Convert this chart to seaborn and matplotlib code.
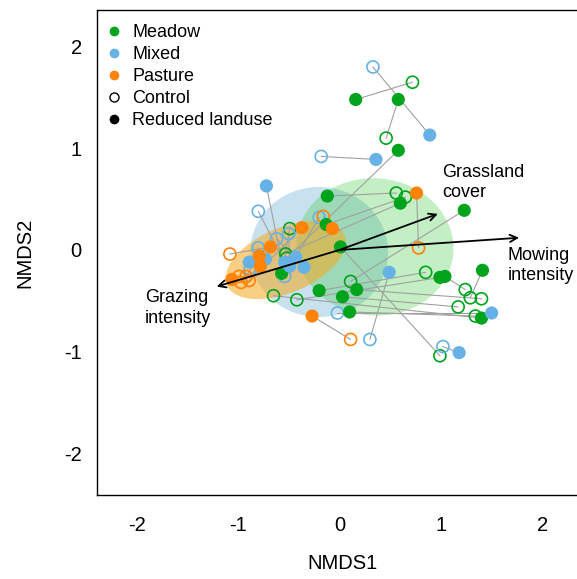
import matplotlib
matplotlib.use("Agg")
import matplotlib.pyplot as plt
import seaborn as sns
import pandas as pd
from matplotlib.patches import Ellipse
from matplotlib.lines import Line2D

# ---- data: one entry per site pair (control vs reduced land use) ----
landuse = (["Meadow"] * 17) + (["Mixed"] * 12) + (["Pasture"] * 8)
ctrl_x = [0.72, 0.46, 0.56, 0.65, -0.53, -0.52, -0.42, 0.11, 0.85, 1.24, 1.29, 1.17, 1.34, 0.99, 1.40, -0.49, -0.65,
          0.33, -0.18, -0.02, 0.30, 1.02, -0.54, -0.80, -0.20, -0.50, -0.62, -0.80, -0.88,
          0.78, 0.11, -0.16, -1.08, -0.99, -0.92, -0.97, -0.89]
ctrl_y = [1.65, 1.10, 0.56, 0.52, -0.04, -0.08, -0.49, -0.31, -0.22, -0.39, -0.47, -0.56, -0.65, -1.04, -0.48, 0.21, -0.45,
          1.80, 0.92, -0.62, -0.88, -0.95, -0.26, 0.38, 0.32, 0.16, 0.11, 0.02, -0.19,
          0.02, -0.88, 0.33, -0.04, -0.26, -0.26, -0.32, -0.30]
red_x = [0.16, 0.58, -0.12, -0.13, 0.60, 0.58, 0.99, 1.23, -0.20, 1.04, 1.41, 0.03, 0.10, 0.01, 0.17, -0.57, 1.40,
         0.89, 0.36, 1.50, 0.49, 1.18, -0.72, -0.54, -0.43, -0.49, -0.35, -0.73, -0.89,
         0.76, -0.27, -0.07, -0.68, -1.06, -0.79, -0.78, -0.37]
red_y = [1.48, 1.48, 0.53, 0.25, 0.46, 0.98, -0.27, 0.39, -0.40, -0.26, -0.20, -0.46, -0.61, 0.03, -0.39, -0.23, -0.67,
         1.13, 0.89, -0.62, -0.22, -1.01, 0.63, -0.12, -0.07, -0.16, -0.17, -0.09, -0.12,
         0.56, -0.65, 0.21, 0.03, -0.29, -0.06, -0.16, 0.22]

# ellipses per land use: centre x, centre y, width, height, angle
ell_names = ["Mixed", "Meadow", "Pasture"]
ell_cx = [-0.20, 0.35, -0.53]
ell_cy = [-0.02, 0.03, -0.10]
ell_w = [1.36, 1.55, 1.26]
ell_h = [1.28, 1.35, 0.64]
ell_angle = [0, -5, 23]

# environmental vectors
vec_names = ["Grassland\ncover", "Mowing\nintensity", "Grazing\nintensity"]
vec_x = [0.97, 1.77, -1.21]
vec_y = [0.355, 0.12, -0.36]

colors = {"Meadow": "#00A41C", "Mixed": "#66B2E6", "Pasture": "#FF8209"}
ell_colors = {"Meadow": ("#3CC83C", 0.30), "Mixed": ("#7AB8D8", 0.42), "Pasture": ("#F5A81E", 0.55)}

df_c = pd.DataFrame({"x": ctrl_x, "y": ctrl_y, "landuse": landuse})
df_r = pd.DataFrame({"x": red_x, "y": red_y, "landuse": landuse})

sns.set_style("white")
plt.rcParams["font.family"] = ["Liberation Sans", "DejaVu Sans"]
plt.rcParams["text.color"] = "black"
plt.rcParams["axes.labelcolor"] = "black"
plt.rcParams["xtick.color"] = "black"
plt.rcParams["ytick.color"] = "black"

fig = plt.figure(figsize=(5.77, 5.79), dpi=100)
ax = fig.add_axes([97 / 577, 0.1451, 491 / 577, 0.8376])

# ellipses
for n, cx, cy, w, h, a in zip(ell_names, ell_cx, ell_cy, ell_w, ell_h, ell_angle):
    c, al = ell_colors[n]
    ax.add_patch(Ellipse((cx, cy), w, h, angle=a, facecolor=c, alpha=al, edgecolor="none", zorder=1))

# connecting lines
for x0, y0, x1, y1 in zip(ctrl_x, ctrl_y, red_x, red_y):
    ax.plot([x0, x1], [y0, y1], color="#a0a0a0", lw=0.8, zorder=2)

# reduced (filled)
sns.scatterplot(data=df_r, x="x", y="y", hue="landuse", palette=colors, s=90,
                linewidth=0, ax=ax, legend=False, zorder=4)
# control (open)
for lu in ["Meadow", "Mixed", "Pasture"]:
    sub = df_c[df_c.landuse == lu]
    sns.scatterplot(data=sub, x="x", y="y", color=colors[lu], s=75, linewidth=1.2,
                    ax=ax, legend=False, zorder=3)
    coll = ax.collections[-1]
    coll.set_facecolor("none")
    coll.set_edgecolor(colors[lu])

# vectors
for name, vx, vy in zip(vec_names, vec_x, vec_y):
    ax.annotate("", xy=(vx, vy), xytext=(0, 0),
                arrowprops=dict(arrowstyle="->", lw=1.3, color="black", mutation_scale=13,
                                shrinkA=0, shrinkB=0), zorder=5)
ax.text(1.01, 0.66, vec_names[0], ha="left", va="center", fontsize=13, linespacing=1.25)
ax.text(1.66, -0.15, vec_names[1], ha="left", va="center", fontsize=13, linespacing=1.25)
ax.text(-1.92, -0.57, vec_names[2], ha="left", va="center", fontsize=13, linespacing=1.25)

ax.set_xlim(-2.39, 2.45)
ax.set_ylim(-2.41, 2.36)
ax.set_xticks([-2, -1, 0, 1, 2])
ax.set_yticks([-2, -1, 0, 1, 2])
ax.set_xticklabels(["-2", "-1", "0", "1", "2"])
ax.set_yticklabels(["-2", "-1", "0", "1", "2"])
ax.tick_params(axis="x", direction="out", length=7, width=1, labelsize=14.5, pad=8, color="black")
ax.tick_params(axis="y", direction="out", length=7, width=1, labelsize=14.5, pad=4, color="black")
ax.set_xlabel("NMDS1", fontsize=14.5, labelpad=14)
ax.set_ylabel("NMDS2", fontsize=14.5, labelpad=21)
for s in ax.spines.values():
    s.set_color("black")
    s.set_linewidth(1.0)

handles = [
    Line2D([], [], marker="o", ls="none", color=colors["Meadow"], markersize=7, markeredgewidth=0),
    Line2D([], [], marker="o", ls="none", color=colors["Mixed"], markersize=7, markeredgewidth=0),
    Line2D([], [], marker="o", ls="none", color=colors["Pasture"], markersize=7, markeredgewidth=0),
    Line2D([], [], marker="o", ls="none", markerfacecolor="none", markeredgecolor="black", markersize=6.5, markeredgewidth=1),
    Line2D([], [], marker="o", ls="none", color="black", markersize=7, markeredgewidth=0),
]
labels = ["Meadow", "Mixed", "Pasture", "Control", "Reduced landuse"]
fig.legend(handles, labels, loc="upper left", bbox_to_anchor=(105 / 577, 1 - 24 / 579), frameon=False,
           fontsize=13, handletextpad=0.5, labelspacing=0.28, borderaxespad=0, handlelength=1.0,
           borderpad=0)

fig.savefig("out.png", dpi=100)
